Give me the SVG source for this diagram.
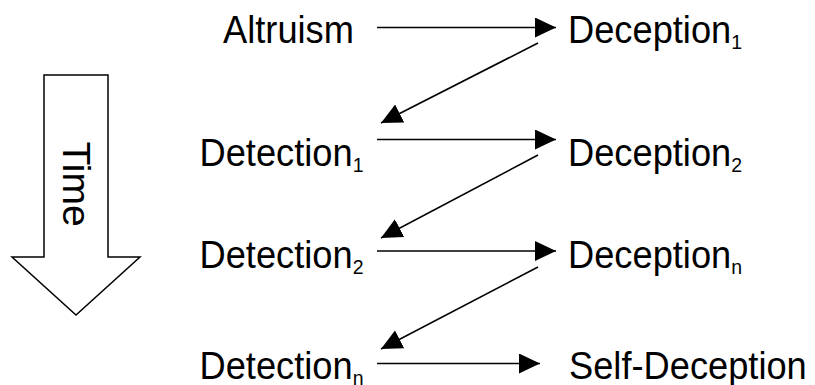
<svg xmlns="http://www.w3.org/2000/svg" width="815" height="385" viewBox="0 0 815 385">
<style>
  .lbl { font-family: "Liberation Sans", Arial, sans-serif; font-size: 39px; fill: #000; }
  .sub { font-size: 21px; }
  .conn { stroke: #000; stroke-width: 1.6; fill: none; }
</style>
<defs>
  <marker id="ah" markerUnits="userSpaceOnUse" markerWidth="24" markerHeight="22" refX="21" refY="10" orient="auto">
    <path d="M0,0 L21,10 L0,20 Z" fill="#000"/>
  </marker>
</defs>
<rect width="815" height="385" fill="#fff"/>
<g id="time">
  <polygon points="44,75 108,75 108,257 140,257 76,315 12,257 44,257" fill="#fff" stroke="#000" stroke-width="1.5"/>
  <text class="lbl" transform="translate(63,184) rotate(90)" text-anchor="middle">Time</text>
</g>
<g id="connectors">
  <line class="conn" x1="377" y1="27.5" x2="556" y2="27.5" marker-end="url(#ah)"/>
  <line class="conn" x1="538" y1="43" x2="381" y2="123" marker-end="url(#ah)"/>
  <line class="conn" x1="377" y1="139.5" x2="556" y2="139.5" marker-end="url(#ah)"/>
  <line class="conn" x1="538" y1="155" x2="381" y2="238" marker-end="url(#ah)"/>
  <line class="conn" x1="377" y1="251" x2="556" y2="251" marker-end="url(#ah)"/>
  <line class="conn" x1="538" y1="267" x2="381" y2="349" marker-end="url(#ah)"/>
  <line class="conn" x1="377" y1="363.5" x2="540" y2="363.5" marker-end="url(#ah)"/>
</g>
<g id="altruism"><text class="lbl" transform="translate(223,43) scale(0.93,1)">Altruism</text></g>
<g id="deception1"><text class="lbl" transform="translate(568,43) scale(0.93,1)">Deception<tspan class="sub" dy="6">1</tspan></text></g>
<g id="detection1"><text class="lbl" transform="translate(199.5,166) scale(0.93,1)">Detection<tspan class="sub" dy="6">1</tspan></text></g>
<g id="deception2"><text class="lbl" transform="translate(568,166) scale(0.93,1)">Deception<tspan class="sub" dy="6">2</tspan></text></g>
<g id="detection2"><text class="lbl" transform="translate(199.5,268) scale(0.93,1)">Detection<tspan class="sub" dy="6">2</tspan></text></g>
<g id="deceptionn"><text class="lbl" transform="translate(568,268) scale(0.93,1)">Deception<tspan class="sub" dy="6">n</tspan></text></g>
<g id="detectionn"><text class="lbl" transform="translate(199.5,379) scale(0.93,1)">Detection<tspan class="sub" dy="6">n</tspan></text></g>
<g id="selfdeception"><text class="lbl" transform="translate(569,379) scale(0.93,1)">Self-Deception</text></g>
</svg>
